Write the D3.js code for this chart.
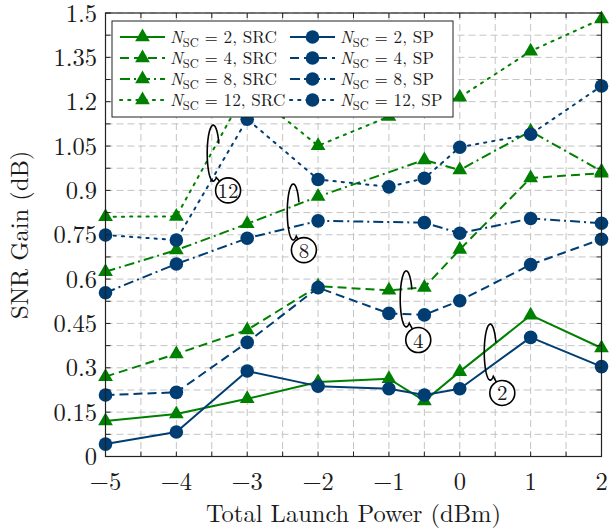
<!DOCTYPE html>
<html>
<head>
<meta charset="utf-8">
<script src="https://cdn.jsdelivr.net/npm/d3@7"></script>
<style>
  html, body { margin: 0; padding: 0; background: #fff; }
  svg { display: block; }
</style>
</head>
<body>
<svg id="chart" width="610" height="529"></svg>
<script>
// ---------- data ----------
const powers = [-5, -4, -3, -2, -1, -0.5, 0, 1, 2];
const src2  = [0.120, 0.144, 0.195, 0.252, 0.263, 0.188, 0.287, 0.478, 0.367];
const sp2   = [0.042, 0.083, 0.289, 0.238, 0.229, 0.208, 0.229, 0.403, 0.304];
const src4  = [0.270, 0.347, 0.428, 0.576, 0.562, 0.572, 0.700, 0.942, 0.958];
const sp4   = [0.208, 0.217, 0.386, 0.571, 0.484, 0.479, 0.527, 0.649, 0.735];
const src8  = [0.625, 0.698, 0.787, 0.879, null, 1.003, 0.969, 1.100, 0.965];
const sp8   = [0.554, 0.651, 0.738, 0.797, null, 0.791, 0.755, 0.805, 0.789];
const src12 = [0.811, 0.812, 1.245, 1.051, 1.150, null, 1.215, 1.371, 1.480];
const sp12  = [0.749, 0.732, 1.141, 0.937, 0.912, 0.941, 1.046, 1.090, 1.253];

const xTicks = [-5, -4, -3, -2, -1, 0, 1, 2];
const yTicks = [0, 0.15, 0.3, 0.45, 0.6, 0.75, 0.9, 1.05, 1.2, 1.35, 1.5];
const yTickLabels = ["0", "0.15", "0.3", "0.45", "0.6", "0.75", "0.9", "1.05", "1.2", "1.35", "1.5"];

const nscValues = ["2", "4", "8", "12"];
const schemeNames = ["SRC", "SP"];

// annotation groups: ellipse centre and label circle (data units)
const annotLabels = ["12", "8", "4", "2"];
const annotEllipseX = [-3.48, -2.35, -0.756, 0.43];
const annotEllipseY = [1.026, 0.827, 0.533, 0.353];
const annotCircleX  = [-3.27, -2.20, -0.586, 0.60];
const annotCircleY  = [0.900, 0.698, 0.394, 0.215];

// ---------- styles ----------
const GREEN = "#008000";
const BLUE = "#003d73";
const dashes = ["none", "9,5", "10,4,2,4", "2.2,6"];
const FONT = "'Latin Modern Roman'";
const TXT = "#1a1a1a";

const series = [
  { vals: src2,  scheme: 0, n: 0 },
  { vals: src4,  scheme: 0, n: 1 },
  { vals: src8,  scheme: 0, n: 2 },
  { vals: src12, scheme: 0, n: 3 },
  { vals: sp2,   scheme: 1, n: 0 },
  { vals: sp4,   scheme: 1, n: 1 },
  { vals: sp8,   scheme: 1, n: 2 },
  { vals: sp12,  scheme: 1, n: 3 },
];

// ---------- layout ----------
const svg = d3.select("#chart");
const L = 105.5, R = 601.5, T = 13, B = 456.5;
const x = d3.scaleLinear().domain([-5, 2]).range([L, R]);
const y = d3.scaleLinear().domain([0, 1.5]).range([B, T]);

function txt(sel, size) {
  return sel.append("text").attr("font-family", FONT).attr("font-size", size).attr("fill", TXT);
}

// grid (every 0.5 in x, every 0.075 in y)
const gx = d3.range(-5, 2.001, 0.5);
const gy = d3.range(0, 1.5001, 0.075);
const grid = svg.append("g").attr("stroke", "#c4c4c4").attr("stroke-width", 1).attr("stroke-dasharray", "7,4");
gx.forEach(v => grid.append("line").attr("x1", x(v)).attr("x2", x(v)).attr("y1", T).attr("y2", B));
gy.forEach(v => grid.append("line").attr("x1", L).attr("x2", R).attr("y1", y(v)).attr("y2", y(v)));

// ---------- marker helpers ----------
function triPath(r) {
  const p = [90, 210, 330].map(a => [r * Math.cos(a * Math.PI / 180), -r * Math.sin(a * Math.PI / 180)]);
  return "M" + p.map(q => q.join(",")).join("L") + "Z";
}
function drawMarker(g, scheme, cx, cy) {
  if (scheme === 0) {
    g.append("path").attr("d", triPath(8.5)).attr("transform", `translate(${cx},${cy})`).attr("fill", GREEN);
  } else {
    g.append("circle").attr("cx", cx).attr("cy", cy).attr("r", 6.8).attr("fill", BLUE);
  }
}

// ---------- lines ----------
const lineGen = d3.line().x(d => x(d[0])).y(d => y(d[1]));
const plot = svg.append("g");
series.forEach(s => {
  const pts = powers.map((p, i) => [p, s.vals[i]]).filter(d => d[1] !== null);
  plot.append("path").datum(pts).attr("d", lineGen)
    .attr("fill", "none")
    .attr("stroke", s.scheme === 0 ? GREEN : BLUE)
    .attr("stroke-width", 2)
    .attr("stroke-dasharray", dashes[s.n])
    .attr("stroke-linecap", s.n === 3 ? "round" : "butt")
    .attr("stroke-linejoin", "round");
});
series.forEach(s => {
  powers.forEach((p, i) => {
    if (s.vals[i] !== null) drawMarker(plot, s.scheme, x(p), y(s.vals[i]));
  });
});

// ---------- annotations ----------
const ann = svg.append("g").attr("fill", "none").attr("stroke", "#000").attr("stroke-width", 1.6);
annotLabels.forEach((lab, i) => {
  const ex = x(annotEllipseX[i]), ey = y(annotEllipseY[i]);
  const cx = x(annotCircleX[i]), cy = y(annotCircleY[i]);
  const rx = 6, ry = 28, rc = 12.5;
  const path = d3.path();
  const angs = d3.range(20, 301, 4);
  angs.forEach((a, k) => {
    const t = a * Math.PI / 180;
    const px = ex + rx * Math.cos(t), py = ey - ry * Math.sin(t);
    if (k === 0) path.moveTo(px, py); else path.lineTo(px, py);
  });
  const tEnd = 300 * Math.PI / 180;
  const dx = cx - (ex + rx * Math.cos(tEnd));
  const dy = cy - (ey - ry * Math.sin(tEnd));
  const dl = Math.hypot(dx, dy);
  path.lineTo(cx - dx / dl * rc, cy - dy / dl * rc);
  ann.append("path").attr("d", path.toString());
  ann.append("circle").attr("cx", cx).attr("cy", cy).attr("r", rc).attr("fill", "#fff");
  txt(svg, 21).attr("x", cx).attr("y", cy + 7.5).attr("text-anchor", "middle").text(lab);
});

// ---------- axis frame and ticks ----------
const axisG = svg.append("g").attr("stroke", "#222").attr("stroke-width", 1);
gx.forEach(v => {
  axisG.append("line").attr("x1", x(v)).attr("x2", x(v)).attr("y1", B).attr("y2", B - 5);
  axisG.append("line").attr("x1", x(v)).attr("x2", x(v)).attr("y1", T).attr("y2", T + 5);
});
gy.forEach(v => {
  axisG.append("line").attr("x1", L).attr("x2", L + 5).attr("y1", y(v)).attr("y2", y(v));
  axisG.append("line").attr("x1", R).attr("x2", R - 5).attr("y1", y(v)).attr("y2", y(v));
});

// ---------- legend ----------
const lg = svg.append("g");
const LX = 112, LY = 21, LW = 341, LH = 96;
lg.append("rect").attr("x", LX).attr("y", LY).attr("width", LW).attr("height", LH)
  .attr("fill", "#fff").attr("stroke", "#222").attr("stroke-width", 1);
const rowY = [37, 58, 79, 100];
const colX = [120, 290];
schemeNames.forEach((sch, c) => {
  nscValues.forEach((n, r) => {
    const yy = rowY[r], x0 = colX[c];
    lg.append("line").attr("x1", x0).attr("x2", x0 + 45).attr("y1", yy).attr("y2", yy)
      .attr("stroke", c === 0 ? GREEN : BLUE).attr("stroke-width", 2)
      .attr("stroke-dasharray", dashes[r]).attr("stroke-linecap", r === 3 ? "round" : "butt");
    drawMarker(lg, c, x0 + 22.5, yy);
    const t = txt(lg, 17.2).attr("x", x0 + 50).attr("y", yy + 6);
    t.append("tspan").attr("font-style", "italic").text("N");
    t.append("tspan").attr("font-size", 12.5).attr("dy", 3.5).text("SC");
    t.append("tspan").attr("dy", -3.5).text(` = ${n}, ${sch}`);
  });
});

// frame on top
svg.append("rect").attr("x", L).attr("y", T).attr("width", R - L).attr("height", B - T)
  .attr("fill", "none").attr("stroke", "#222").attr("stroke-width", 1.2);

// ---------- tick labels ----------
xTicks.forEach(v => {
  txt(svg, 24.5).attr("x", x(v)).attr("y", 490).attr("text-anchor", "middle")
    .text(v < 0 ? "\u2212" + Math.abs(v) : String(v));
});
yTicks.forEach((v, i) => {
  txt(svg, 24.5).attr("x", 97).attr("y", y(v) + 8.5).attr("text-anchor", "end").text(yTickLabels[i]);
});

// axis labels
txt(svg, 24.5).attr("x", x(-1.5)).attr("y", 522).attr("text-anchor", "middle").text("Total Launch Power (dBm)");
txt(svg, 24.5).attr("transform", `translate(28,${(T + B) / 2}) rotate(-90)`)
  .attr("text-anchor", "middle").text("SNR Gain (dB)");
</script>
</body>
</html>
